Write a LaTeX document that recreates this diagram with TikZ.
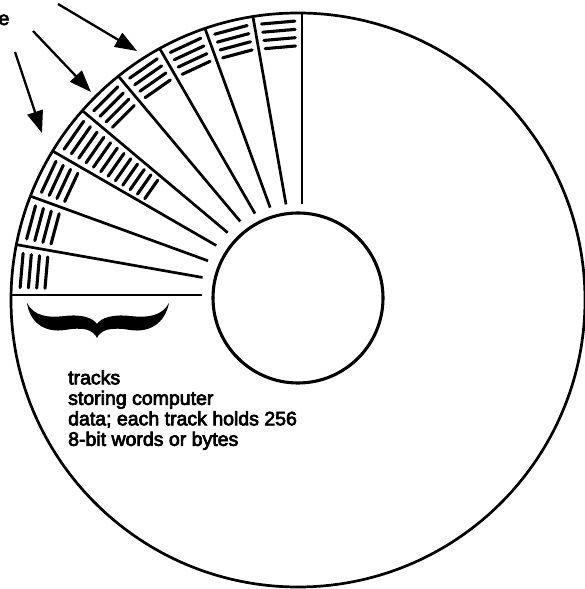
\documentclass[tikz,border=0pt]{standalone}
\usepackage{fontspec}
\setmainfont{Liberation Sans}
\usetikzlibrary{arrows.meta}
\newcommand\heavyink{\special{pdf:literal direct 2 Tr 0.7 w}}
\begin{document}
\begin{tikzpicture}[x=1pt,y=1pt,
  rim/.style={line width=2.7pt},
  spoke/.style={line width=2.7pt},
  track/.style={line width=3.1pt,line cap=round},
  pointer/.style={line width=2.3pt,-{Triangle[length=22pt,width=16pt]}},
  label/.style={inner sep=0pt,font=\fontsize{19.5}{20.5}\selectfont}]
\useasboundingbox (0,0) rectangle (584,589);

\coordinate (disc) at (298,289);
\coordinate (hub) at (298,291);
\coordinate (apex) at (302,294);

\draw[rim] (disc) circle (287);
\draw[line width=3.1pt] (hub) circle (85);

\begin{scope}
\clip (disc) circle (287);
\draw[spoke] ([shift={(90:91)}]apex) -- ([shift={(90:300)}]apex);
\draw[spoke] ([shift={(100:92)}]apex) -- ([shift={(100:300)}]apex);
\draw[spoke] ([shift={(110:93)}]apex) -- ([shift={(110:300)}]apex);
\draw[spoke] ([shift={(120:94)}]apex) -- ([shift={(120:300)}]apex);
\draw[spoke] ([shift={(130:96)}]apex) -- ([shift={(130:300)}]apex);
\draw[spoke] ([shift={(140:97)}]apex) -- ([shift={(140:300)}]apex);
\draw[spoke] ([shift={(150:99)}]apex) -- ([shift={(150:300)}]apex);
\draw[spoke] ([shift={(160:100)}]apex) -- ([shift={(160:300)}]apex);
\draw[spoke] ([shift={(170:101)}]apex) -- ([shift={(170:300)}]apex);
\draw[spoke] ([shift={(180:100)}]apex) -- ([shift={(180:300)}]apex);
\end{scope}

\foreach \a/\r in {90/274,100/275,110/276,120/277,130/278,150/280,160/281,170/282}
  \foreach \k in {0,1,2,3}
    \draw[track] ([shift={(\a+1.5:\r-8.3*\k)}]apex) -- ([shift={(\a+8.5:\r-8.3*\k)}]apex);
\foreach \k in {0,...,11}
  \draw[track] ([shift={(141.5:279-8.6*\k)}]apex) -- ([shift={(148.5:279-8.6*\k)}]apex);

\fill (27,286) .. controls (30,266) and (45,256) .. (65,259)
  .. controls (82,262) and (93,260) .. (97,251)
  .. controls (101,260) and (112,262) .. (130,259)
  .. controls (150,256) and (165,266) .. (169,286)
  .. controls (162,273) and (148,271) .. (130,273)
  .. controls (112,275) and (101,271) .. (97,265)
  .. controls (93,271) and (82,275) .. (65,273)
  .. controls (47,271) and (34,273) .. (27,286) -- cycle;

\node[label,anchor=base east] (cut) at (9.5,564) {\heavyink e};
\node[label,anchor=north west,align=left] (note) at (68,219)
  {\heavyink tracks\\\heavyink storing computer\\\heavyink data; each track holds 256\\\heavyink 8-bit words or bytes};

\coordinate (tailA) at (58,585);
\coordinate (tipA) at (137,538);
\coordinate (tailB) at (33,558);
\coordinate (tipB) at (91,497);
\coordinate (tailC) at (15,537);
\coordinate (tipC) at (42,456);
\draw[pointer] (tailA) -- (tipA);
\draw[pointer] (tailB) -- (tipB);
\draw[pointer] (tailC) -- (tipC);
\end{tikzpicture}
\end{document}
